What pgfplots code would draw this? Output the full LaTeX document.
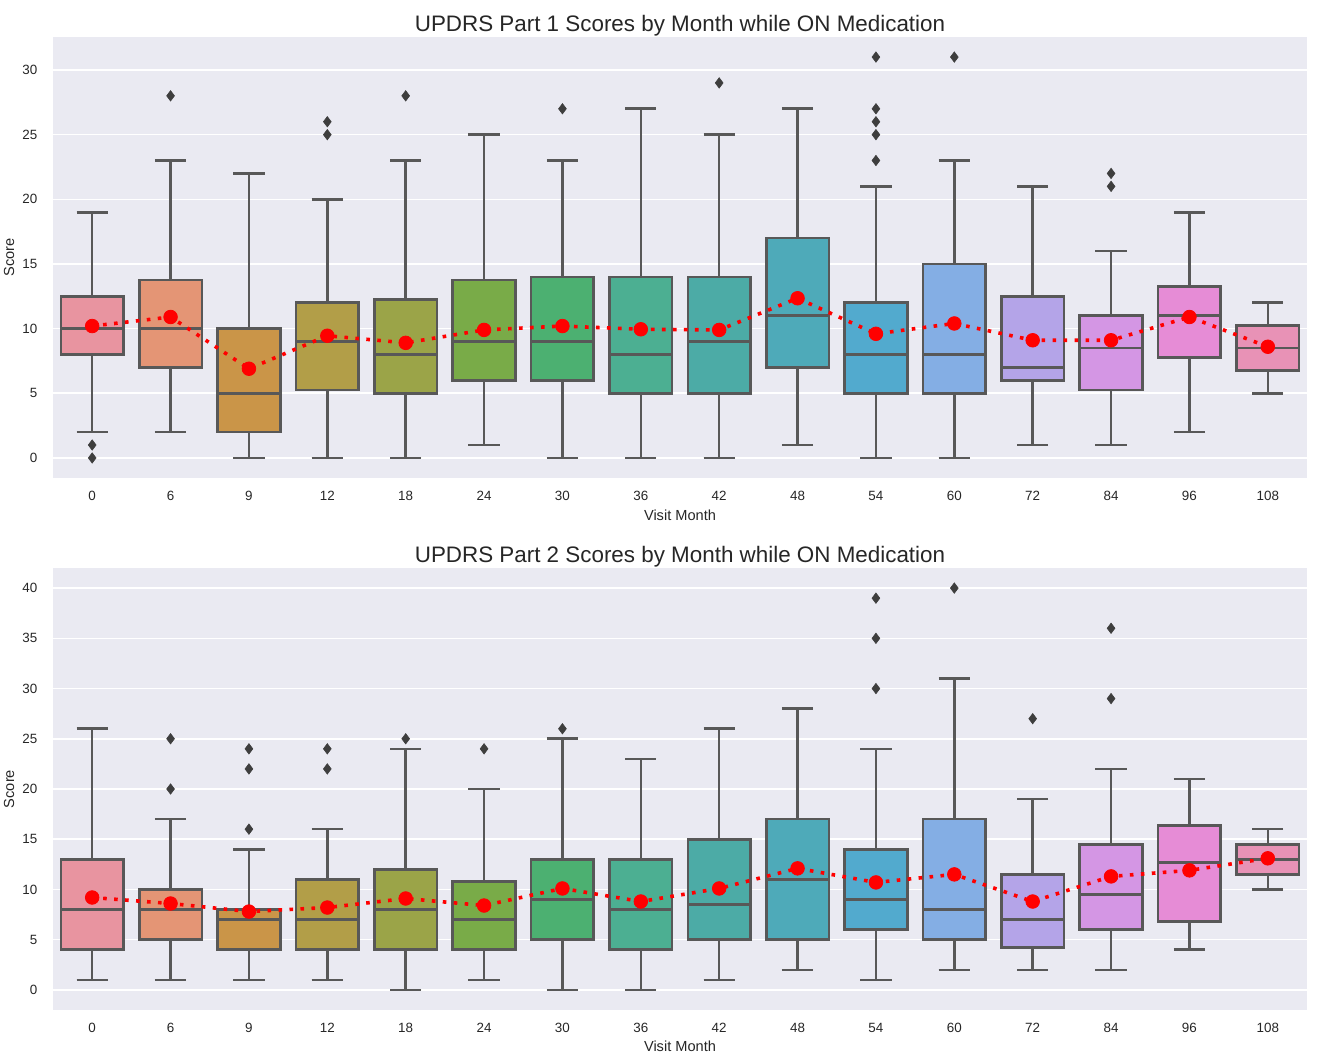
\documentclass[border=0pt]{standalone}
\usepackage{fontspec}
\setmainfont{Liberation Sans}
\usepackage{pgfplots}
\pgfplotsset{compat=1.18}
\usepgfplotslibrary{statistics}

\definecolor{bgc}{RGB}{234,234,242}
\definecolor{txt}{RGB}{38,38,38}
\definecolor{edge}{RGB}{88,88,88}
\definecolor{flier}{RGB}{62,62,62}
\definecolor{c0}{RGB}{232,148,160}
\definecolor{c1}{RGB}{228,149,117}
\definecolor{c2}{RGB}{202,149,72}
\definecolor{c3}{RGB}{178,158,72}
\definecolor{c4}{RGB}{155,164,72}
\definecolor{c5}{RGB}{121,171,72}
\definecolor{c6}{RGB}{76,176,113}
\definecolor{c7}{RGB}{76,175,146}
\definecolor{c8}{RGB}{76,171,166}
\definecolor{c9}{RGB}{78,170,185}
\definecolor{c10}{RGB}{82,170,206}
\definecolor{c11}{RGB}{132,174,228}
\definecolor{c12}{RGB}{180,164,232}
\definecolor{c13}{RGB}{212,150,228}
\definecolor{c14}{RGB}{230,140,214}
\definecolor{c15}{RGB}{232,146,182}

\pgfplotsset{
  sbstyle/.style={
    scale only axis, width=627pt, anchor=north west,
    xmin=-0.5, xmax=15.5,
    xtick={0,...,15},
    xticklabels={0,6,9,12,18,24,30,36,42,48,54,60,72,84,96,108},
    axis background/.style={fill=bgc},
    axis line style={draw=none},
    major tick length=0pt,
    ymajorgrids, major grid style={white, line width=0.8pt},
    /pgf/number format/assume math mode=true,
    tick label style={font=\fontsize{6.7}{8}\selectfont, text=txt},
    xticklabel style={anchor=center, yshift=-9pt},
    yticklabel style={anchor=east, xshift=-4.3pt},
    label style={font=\fontsize{7.3}{9}\selectfont, text=txt},
    xlabel={Visit Month}, ylabel={Score},
    ylabel style={at={(axis description cs:-0.0351,0.5)}, anchor=center},
    title style={font=\fontsize{11.2}{13}\selectfont, text=txt, at={(axis description cs:0.5,1)}, anchor=base, yshift=-3pt},
    boxplot/draw direction=y,
    boxplot/box extend=0.8, boxplot/whisker extend=0.4,
  },
  bx/.style={draw=edge, fill=#1, line width=1.3pt, mark=diamond*,
    boxplot/draw direction=y,
    mark options={fill=flier, draw=flier, line width=0.3pt, mark size=2.6pt, solid}},
  meanline/.style={red, line width=1.8pt, dash pattern=on 1.8pt off 3.7pt},
  meandots/.style={only marks, mark=*, mark size=3.4pt, red, mark options={fill=red, draw=red, solid}},
}

\begin{document}
\begin{tikzpicture}
\path[use as bounding box] (0,0) rectangle (669.5pt,-530.5pt);

% ---------------- Part 1 ----------------
\begin{axis}[sbstyle, at={(26.5pt,-18.5pt)}, height=220.5pt,
  ymin=-1.55, ymax=32.55, ytick={0,5,...,30},
  title={UPDRS Part 1 Scores by Month while ON Medication},
  xlabel style={at={(axis description cs:0.5,-0.0839)}, anchor=center}]
\addplot[bx=c0, boxplot prepared={draw direction=y, draw position=0, median=10, upper quartile=12.5, lower quartile=8, upper whisker=19, lower whisker=2}] table[row sep=\\, y index=0] {1\\0\\};
\addplot[bx=c1, boxplot prepared={draw direction=y, draw position=1, median=10, upper quartile=13.75, lower quartile=7, upper whisker=23, lower whisker=2}] table[row sep=\\, y index=0] {28\\};
\addplot[bx=c2, boxplot prepared={draw direction=y, draw position=2, median=5, upper quartile=10, lower quartile=2, upper whisker=22, lower whisker=0}] coordinates {};
\addplot[bx=c3, boxplot prepared={draw direction=y, draw position=3, median=9, upper quartile=12, lower quartile=5.25, upper whisker=20, lower whisker=0}] table[row sep=\\, y index=0] {25\\26\\};
\addplot[bx=c4, boxplot prepared={draw direction=y, draw position=4, median=8, upper quartile=12.25, lower quartile=5, upper whisker=23, lower whisker=0}] table[row sep=\\, y index=0] {28\\};
\addplot[bx=c5, boxplot prepared={draw direction=y, draw position=5, median=9, upper quartile=13.75, lower quartile=6, upper whisker=25, lower whisker=1}] coordinates {};
\addplot[bx=c6, boxplot prepared={draw direction=y, draw position=6, median=9, upper quartile=14, lower quartile=6, upper whisker=23, lower whisker=0}] table[row sep=\\, y index=0] {27\\};
\addplot[bx=c7, boxplot prepared={draw direction=y, draw position=7, median=8, upper quartile=14, lower quartile=5, upper whisker=27, lower whisker=0}] coordinates {};
\addplot[bx=c8, boxplot prepared={draw direction=y, draw position=8, median=9, upper quartile=14, lower quartile=5, upper whisker=25, lower whisker=0}] table[row sep=\\, y index=0] {29\\};
\addplot[bx=c9, boxplot prepared={draw direction=y, draw position=9, median=11, upper quartile=17, lower quartile=7, upper whisker=27, lower whisker=1}] coordinates {};
\addplot[bx=c10, boxplot prepared={draw direction=y, draw position=10, median=8, upper quartile=12, lower quartile=5, upper whisker=21, lower whisker=0}] table[row sep=\\, y index=0] {23\\25\\26\\27\\31\\};
\addplot[bx=c11, boxplot prepared={draw direction=y, draw position=11, median=8, upper quartile=15, lower quartile=5, upper whisker=23, lower whisker=0}] table[row sep=\\, y index=0] {31\\};
\addplot[bx=c12, boxplot prepared={draw direction=y, draw position=12, median=7, upper quartile=12.5, lower quartile=6, upper whisker=21, lower whisker=1}] coordinates {};
\addplot[bx=c13, boxplot prepared={draw direction=y, draw position=13, median=8.5, upper quartile=11, lower quartile=5.25, upper whisker=16, lower whisker=1}] table[row sep=\\, y index=0] {21\\22\\};
\addplot[bx=c14, boxplot prepared={draw direction=y, draw position=14, median=11, upper quartile=13.25, lower quartile=7.75, upper whisker=19, lower whisker=2}] coordinates {};
\addplot[bx=c15, boxplot prepared={draw direction=y, draw position=15, median=8.5, upper quartile=10.25, lower quartile=6.75, upper whisker=12, lower whisker=5}] coordinates {};
\addplot[meanline] coordinates {(0,10.2) (1,10.9) (2,6.9) (3,9.45) (4,8.9) (5,9.9) (6,10.2) (7,9.95) (8,9.9) (9,12.35) (10,9.6) (11,10.4) (12,9.1) (13,9.1) (14,10.9) (15,8.6)};
\addplot[meandots] coordinates {(0,10.2) (1,10.9) (2,6.9) (3,9.45) (4,8.9) (5,9.9) (6,10.2) (7,9.95) (8,9.9) (9,12.35) (10,9.6) (11,10.4) (12,9.1) (13,9.1) (14,10.9) (15,8.6)};
\end{axis}

% ---------------- Part 2 ----------------
\begin{axis}[sbstyle, at={(26.5pt,-284pt)}, height=221pt,
  ymin=-2, ymax=42, ytick={0,5,...,40},
  title={UPDRS Part 2 Scores by Month while ON Medication},
  xlabel style={at={(axis description cs:0.5,-0.0814)}, anchor=center}]
\addplot[bx=c0, boxplot prepared={draw direction=y, draw position=0, median=8, upper quartile=13, lower quartile=4, upper whisker=26, lower whisker=1}] coordinates {};
\addplot[bx=c1, boxplot prepared={draw direction=y, draw position=1, median=8, upper quartile=10, lower quartile=5, upper whisker=17, lower whisker=1}] table[row sep=\\, y index=0] {20\\25\\};
\addplot[bx=c2, boxplot prepared={draw direction=y, draw position=2, median=7, upper quartile=8, lower quartile=4, upper whisker=14, lower whisker=1}] table[row sep=\\, y index=0] {16\\22\\24\\};
\addplot[bx=c3, boxplot prepared={draw direction=y, draw position=3, median=7, upper quartile=11, lower quartile=4, upper whisker=16, lower whisker=1}] table[row sep=\\, y index=0] {22\\24\\};
\addplot[bx=c4, boxplot prepared={draw direction=y, draw position=4, median=8, upper quartile=12, lower quartile=4, upper whisker=24, lower whisker=0}] table[row sep=\\, y index=0] {25\\};
\addplot[bx=c5, boxplot prepared={draw direction=y, draw position=5, median=7, upper quartile=10.8, lower quartile=4, upper whisker=20, lower whisker=1}] table[row sep=\\, y index=0] {24\\};
\addplot[bx=c6, boxplot prepared={draw direction=y, draw position=6, median=9, upper quartile=13, lower quartile=5, upper whisker=25, lower whisker=0}] table[row sep=\\, y index=0] {26\\};
\addplot[bx=c7, boxplot prepared={draw direction=y, draw position=7, median=8, upper quartile=13, lower quartile=4, upper whisker=23, lower whisker=0}] coordinates {};
\addplot[bx=c8, boxplot prepared={draw direction=y, draw position=8, median=8.5, upper quartile=15, lower quartile=5, upper whisker=26, lower whisker=1}] coordinates {};
\addplot[bx=c9, boxplot prepared={draw direction=y, draw position=9, median=11, upper quartile=17, lower quartile=5, upper whisker=28, lower whisker=2}] coordinates {};
\addplot[bx=c10, boxplot prepared={draw direction=y, draw position=10, median=9, upper quartile=14, lower quartile=6, upper whisker=24, lower whisker=1}] table[row sep=\\, y index=0] {30\\35\\39\\};
\addplot[bx=c11, boxplot prepared={draw direction=y, draw position=11, median=8, upper quartile=17, lower quartile=5, upper whisker=31, lower whisker=2}] table[row sep=\\, y index=0] {40\\};
\addplot[bx=c12, boxplot prepared={draw direction=y, draw position=12, median=7, upper quartile=11.5, lower quartile=4.25, upper whisker=19, lower whisker=2}] table[row sep=\\, y index=0] {27\\};
\addplot[bx=c13, boxplot prepared={draw direction=y, draw position=13, median=9.5, upper quartile=14.5, lower quartile=6, upper whisker=22, lower whisker=2}] table[row sep=\\, y index=0] {29\\36\\};
\addplot[bx=c14, boxplot prepared={draw direction=y, draw position=14, median=12.7, upper quartile=16.35, lower quartile=6.8, upper whisker=21, lower whisker=4}] coordinates {};
\addplot[bx=c15, boxplot prepared={draw direction=y, draw position=15, median=13, upper quartile=14.5, lower quartile=11.5, upper whisker=16, lower whisker=10}] coordinates {};
\addplot[meanline] coordinates {(0,9.2) (1,8.6) (2,7.8) (3,8.2) (4,9.1) (5,8.4) (6,10.1) (7,8.8) (8,10.1) (9,12.1) (10,10.7) (11,11.5) (12,8.8) (13,11.3) (14,11.9) (15,13.1)};
\addplot[meandots] coordinates {(0,9.2) (1,8.6) (2,7.8) (3,8.2) (4,9.1) (5,8.4) (6,10.1) (7,8.8) (8,10.1) (9,12.1) (10,10.7) (11,11.5) (12,8.8) (13,11.3) (14,11.9) (15,13.1)};
\end{axis}
\end{tikzpicture}
\end{document}
